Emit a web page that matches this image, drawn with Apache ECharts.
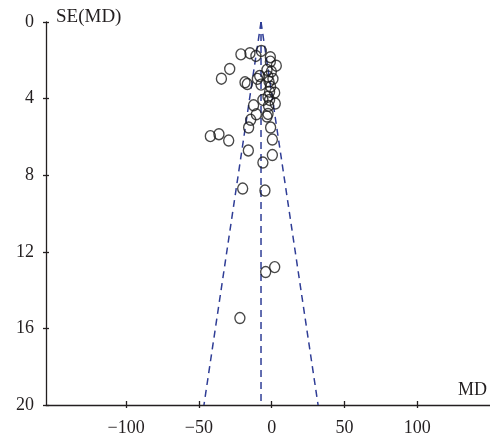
<!DOCTYPE html>
<html>
<head>
<meta charset="utf-8">
<script src="https://cdn.jsdelivr.net/npm/echarts@6/dist/echarts.min.js"></script>
<style>html,body{margin:0;padding:0;background:#fff}#c{width:490px;height:442px}</style>
</head>
<body>
<div id="c"></div>
<script>
// Study effect sizes (MD) and standard errors SE(MD)
var md = [-21.1, -14.9, -10.8, -7.1, -0.9, -0.9, 3.2, -28.8, -34.5, -18.3, -16.7, -9.8, -8.2, -7.3, -3.2, -0.2, 0.9,
          -2.5, -1.8, -0.7, -1.4, 2.1, -2.5, -6.0, -1.4, 2.5, -2.1, -2.5, -3.2,
          -12.4, -10.5, -14.4, -15.8, -0.7, -42.1, -36.2, -29.5, 0.5, -16.0, 0.5, -6.0, -19.9, -4.6, -4.1, 2.1, -21.8];
var se = [1.69, 1.63, 1.77, 1.51, 1.84, 2.07, 2.28, 2.45, 2.96, 3.15, 3.24, 2.97, 2.82, 3.27, 2.50, 2.59, 2.97,
          2.85, 3.11, 3.38, 3.64, 3.69, 3.90, 4.07, 4.07, 4.26, 4.38, 4.80, 4.94,
          4.35, 4.82, 5.11, 5.51, 5.51, 5.96, 5.86, 6.19, 6.14, 6.71, 6.95, 7.34, 8.70, 8.80, 13.06, 12.80, 15.46];
var pooledMD = -7.3;
var funnelSE = [0, 20];
var xTicks = [-100, -50, 0, 50, 100];
var yTicks = [0, 4, 8, 12, 16, 20];

var points = md.map(function (v, i) { return [v, se[i]]; });
var centerLine = funnelSE.map(function (s) { return [pooledMD, s]; });
var leftLine = funnelSE.map(function (s) { return [pooledMD - 1.96 * s, s]; });
var rightLine = funnelSE.map(function (s) { return [pooledMD + 1.96 * s, s]; });

var font = 'Liberation Serif';
var txt = '#231f20';
var fmt = function (v) { return String(v).replace('-', '\u2212'); };

var chart = echarts.init(document.getElementById('c'), null, {renderer: 'canvas'});
var dash = {color: '#2f3d96', width: 1.5, type: [7, 5]};
chart.setOption({
  animation: false,
  grid: {left: 46, right: 0, top: 22, bottom: 37},
  xAxis: [{
    type: 'value', min: -155, max: 150, position: 'bottom',
    splitLine: {show: false},
    axisLine: {show: true, onZero: false, lineStyle: {color: txt, width: 1.3}},
    axisTick: {show: true, length: 3, customValues: xTicks, lineStyle: {color: txt, width: 1.3}},
    axisLabel: {show: true, customValues: xTicks, formatter: fmt, margin: 14, fontFamily: font, fontSize: 18, color: txt}
  }, {
    type: 'value', min: -155, max: 150, position: 'bottom',
    splitLine: {show: false}, axisLine: {show: false, onZero: false},
    axisTick: {show: true, inside: true, length: 4, customValues: xTicks, lineStyle: {color: txt, width: 1.3}},
    axisLabel: {show: false}
  }],
  yAxis: [{
    type: 'value', min: 0, max: 20, interval: 4, inverse: true, position: 'left',
    splitLine: {show: false},
    axisLine: {show: true, onZero: false, lineStyle: {color: txt, width: 1.3}},
    axisTick: {show: true, length: 3, customValues: yTicks, lineStyle: {color: txt, width: 1.3}},
    axisLabel: {show: true, customValues: yTicks, margin: 12, fontFamily: font, fontSize: 18, color: txt}
  }, {
    type: 'value', min: 0, max: 20, interval: 4, inverse: true, position: 'left',
    splitLine: {show: false}, axisLine: {show: false, onZero: false},
    axisTick: {show: true, inside: true, length: 3, customValues: yTicks, lineStyle: {color: txt, width: 1.3}},
    axisLabel: {show: false}
  }],
  graphic: [
    {type: 'text', left: 56, top: 8, style: {text: 'SE(MD)', font: '19px "Liberation Serif"', fill: txt}},
    {type: 'text', right: 3, top: 381, style: {text: 'MD', font: '18px "Liberation Serif"', fill: txt}}
  ],
  series: [
    {type: 'line', data: leftLine, symbol: 'none', lineStyle: dash, z: 1},
    {type: 'line', data: centerLine, symbol: 'none', lineStyle: dash, z: 1},
    {type: 'line', data: rightLine, symbol: 'none', lineStyle: dash, z: 1},
    {type: 'scatter', data: points, symbol: 'circle', symbolSize: [10, 11], z: 2,
     itemStyle: {color: 'rgba(0,0,0,0)', borderColor: '#1a1a1a', borderWidth: 1.4}}
  ]
});
</script>
</body>
</html>
